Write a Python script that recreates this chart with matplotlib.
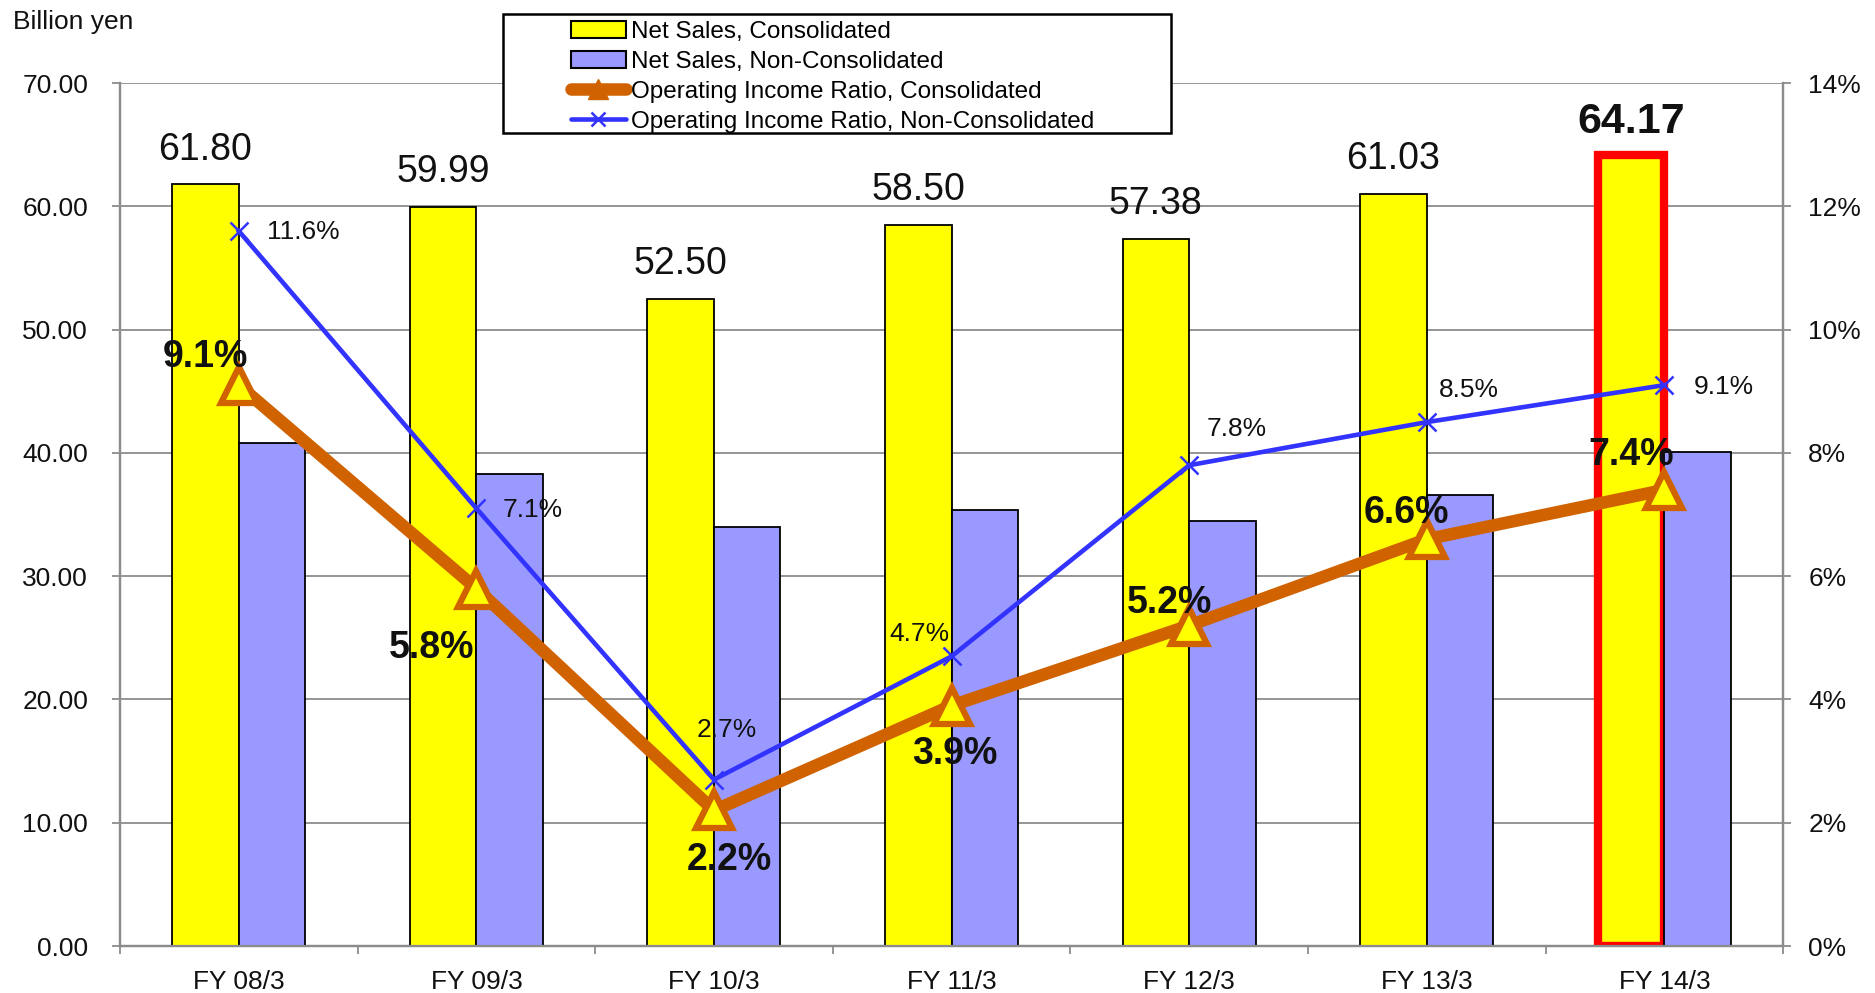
import numpy as np
import matplotlib.pyplot as plt
from matplotlib.patches import Patch, Rectangle
from matplotlib.lines import Line2D

plt.rcParams['font.family'] = ['Liberation Sans', 'DejaVu Sans']

# --- Data ---
years = ["FY 08/3", "FY 09/3", "FY 10/3", "FY 11/3", "FY 12/3", "FY 13/3", "FY 14/3"]
sales_cons = [61.80, 59.99, 52.50, 58.50, 57.38, 61.03, 64.17]
sales_noncons = [40.8, 38.3, 34.0, 35.4, 34.5, 36.6, 40.1]
ratio_cons = [9.1, 5.8, 2.2, 3.9, 5.2, 6.6, 7.4]
ratio_noncons = [11.6, 7.1, 2.7, 4.7, 7.8, 8.5, 9.1]

# label placement (offset points, alignment) for the percentage annotations
off_cons = [(-24, 20), (-32, -43), (11, -36), (2, -35), (-14, 16), (-15, 19), (-24, 25)]
off_noncons = [(20, -1, 'left'), (19, -1, 'left'), (9, 36, 'center'), (-23, 16, 'center'),
               (34, 26, 'center'), (30, 23, 'center'), (21, -1, 'left')]

YELLOW = '#FFFF00'
LILAC = '#9999FF'
ORANGE = '#D06200'
BLUE = '#3333FF'
GRID = '#8C8C8C'
TXT = '#111111'

x = np.arange(len(years))
w = 0.28

fig = plt.figure(figsize=(18.75, 9.93), dpi=100)
ax = fig.add_axes([0.064, 0.0473, 0.887, 0.869])
ax2 = ax.twinx()

ax.set_zorder(1)
ax2.set_zorder(2)
ax2.patch.set_visible(False)

# bars
bars_c = ax.bar(x - w / 2, sales_cons, w, color=YELLOW, edgecolor='black', linewidth=1.3, zorder=3)
bars_n = ax.bar(x + w / 2, sales_noncons, w, color=LILAC, edgecolor='black', linewidth=1.3, zorder=3)
# highlight the latest year
bars_c[-1].set_edgecolor('red')
bars_c[-1].set_linewidth(6)

for i, v in enumerate(sales_cons):
    last = i == len(sales_cons) - 1
    ax.annotate(f"{v:.2f}", (x[i] - w / 2, v), xytext=(0, 9 if last else 12),
                textcoords='offset points', ha='center', va='bottom',
                fontsize=31 if last else 27,
                fontweight='bold' if last else 'normal', color=TXT)

ax.set_xlim(-0.5, len(years) - 0.5)
ax.set_ylim(0, 70)
ax.set_yticks(np.arange(0, 71, 10))
ax.set_yticklabels([f"{v:.2f}" for v in np.arange(0, 71, 10)], fontsize=19, color=TXT)
ax.yaxis.grid(True, color=GRID, linewidth=1.3)
ax.set_axisbelow(True)

ax.set_xticks(x)
ax.set_xticklabels(years, fontsize=19, color=TXT)
ax.set_xticks(np.arange(-0.5, len(years)), minor=True)
ax.tick_params(axis='x', which='major', length=0, pad=17)
ax.tick_params(axis='x', which='minor', length=6, color=GRID, width=1.3)
ax.tick_params(axis='y', length=6, color=GRID, width=1.3, pad=17)

# lines
ax2.plot(x, ratio_noncons, color=BLUE, linewidth=3.3, marker='x', markersize=13,
         markeredgewidth=1.8, zorder=4)
ax2.plot(x, ratio_cons, color=ORANGE, linewidth=9, marker='^', markersize=26,
         markerfacecolor=YELLOW, markeredgecolor=ORANGE, markeredgewidth=4.5, zorder=5)

for i, v in enumerate(ratio_noncons):
    dx, dy, ha = off_noncons[i]
    ax2.annotate(f"{v:.1f}%", (x[i], v), xytext=(dx, dy), textcoords='offset points',
                 ha=ha, va='center', fontsize=19, color=TXT, zorder=6)
for i, v in enumerate(ratio_cons):
    ax2.annotate(f"{v:.1f}%", (x[i], v), xytext=off_cons[i], textcoords='offset points',
                 ha='center', va='center', fontsize=27, fontweight='bold', color=TXT, zorder=6)

ax2.set_ylim(0, 14)
ax2.set_yticks(np.arange(0, 15, 2))
ax2.set_yticklabels([f"{v}%" for v in range(0, 15, 2)], fontsize=19, color=TXT)
ax2.tick_params(axis='y', length=6, color=GRID, width=1.3, pad=12)

for a in (ax, ax2):
    a.spines['top'].set_visible(False)
    for s in ('left', 'right', 'bottom'):
        a.spines[s].set_color(GRID)
        a.spines[s].set_linewidth(1.6)

fig.text(0.007, 0.978, "Billion yen", fontsize=19, ha='left', va='center', color=TXT)

# legend: frameless legend inside a plain drawn box
fig.patches.append(Rectangle((0.2683, 0.866), 0.3563, 0.1199, transform=fig.transFigure,
                             facecolor='white', edgecolor='black', linewidth=1.8, zorder=10))
handles = [
    Patch(facecolor=YELLOW, edgecolor='black', linewidth=1.5),
    Patch(facecolor=LILAC, edgecolor='black', linewidth=1.5),
    Line2D([], [], color=ORANGE, linewidth=9, marker='^', markersize=15,
           markerfacecolor=ORANGE, markeredgecolor=ORANGE, solid_capstyle='round'),
    Line2D([], [], color=BLUE, linewidth=3.3, marker='x', markersize=10, markeredgewidth=1.8,
           solid_capstyle='round'),
]
labels = ["Net Sales, Consolidated", "Net Sales, Non-Consolidated",
          "Operating Income Ratio, Consolidated", "Operating Income Ratio, Non-Consolidated"]
leg = fig.legend(handles, labels, loc='upper left', bbox_to_anchor=(0.3045, 0.979),
                 fontsize=17.5, frameon=False, borderpad=0, labelspacing=0.33,
                 handlelength=2.26, handletextpad=0.2, borderaxespad=0)
leg.set_zorder(11)

fig.savefig("out.png", dpi=100)
